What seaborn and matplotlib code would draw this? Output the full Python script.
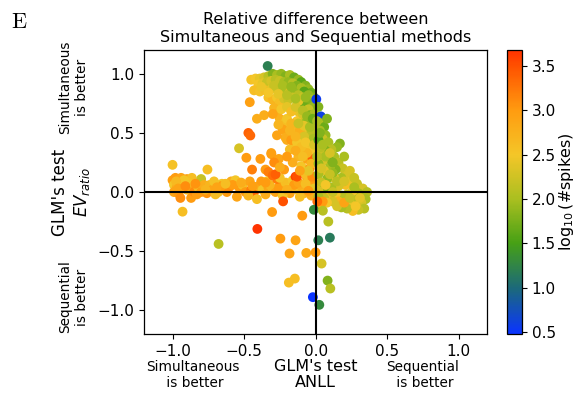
import numpy as np
import pandas as pd
import matplotlib
matplotlib.use("Agg")
import matplotlib.pyplot as plt
from matplotlib.colors import LinearSegmentedColormap, Normalize
from matplotlib.cm import ScalarMappable
import seaborn as sns

# ---- data: GLM test ANLL (x), EV ratio (y), log10 spike count (colour) ----
# horizontal band around EV_ratio ~ 0
band_x = [-1.00, -0.756, -1.00, -0.98, -0.94, -0.90, -0.865, -0.80, -0.99, -0.97, -0.95, -0.99,
          -0.96, -0.93, -0.945, -0.90, -0.87, -0.86, -0.85, -0.83, -0.82, -0.80, -0.78, -0.76,
          -0.74, -0.72, -0.70, -0.68, -0.655, -0.64, -0.62, -0.61, -0.59, -0.56, -0.55, -0.53,
          -0.51, -0.49, -0.46, -0.45, -0.43, -0.41, -0.40, -0.38, -0.37, -0.34, -0.33, -0.30,
          -0.28, -0.26, -0.24, -0.21, -0.19, -0.18, -0.16, -0.14, -0.13, -0.10, -0.08, -0.06,
          -0.04, -0.03, -0.02, -0.01, -0.11, -0.15, -0.23, -0.35, -0.47, -0.58, -0.66, -0.71,
          -0.89, -0.92, -0.84, -0.975, -0.96, -0.91, -0.77, -0.69, -0.63, -0.52, -0.44, -0.32,
          -0.27, -0.20, -0.12, -0.07, -0.05, -0.25]
band_y = [0.23, 0.19, 0.10, 0.12, 0.12, 0.11, 0.12, 0.11, 0.06, 0.04, 0.07, 0.00,
          -0.01, 0.03, -0.05, 0.02, -0.05, 0.05, 0.00, -0.02, 0.04, 0.00, 0.06, -0.01,
          0.06, 0.02, -0.02, 0.00, 0.07, 0.03, 0.00, 0.03, 0.09, 0.10, -0.04, 0.03,
          0.06, 0.00, 0.09, 0.02, 0.00, -0.06, 0.05, 0.09, 0.02, 0.09, 0.04, 0.02,
          0.00, 0.04, 0.07, 0.08, 0.03, -0.01, 0.10, 0.13, 0.02, 0.05, -0.01, 0.12,
          0.04, -0.03, 0.10, 0.03, -0.04, 0.06, -0.03, -0.02, -0.03, 0.06, 0.05, 0.09,
          0.08, 0.10, 0.07, 0.09, 0.03, 0.05, 0.02, 0.04, 0.07, 0.08, 0.05, 0.06,
          0.11, 0.02, 0.08, 0.07, 0.01, 0.12]
band_c = [2.55, 2.6, 2.95, 3.0, 2.9, 2.9, 2.6, 2.2, 2.5, 2.8, 2.6, 2.9,
          3.0, 3.0, 3.1, 2.7, 3.0, 2.9, 3.1, 3.0, 2.6, 3.0, 2.8, 3.05,
          2.7, 2.9, 2.6, 2.6, 2.5, 2.8, 3.0, 3.1, 2.8, 2.5, 2.9, 3.0,
          2.6, 3.0, 2.9, 3.2, 3.4, 2.6, 2.8, 3.0, 2.5, 2.5, 2.9, 2.6,
          2.9, 3.0, 3.0, 2.6, 2.5, 2.9, 2.5, 3.6, 2.6, 2.8, 2.7, 2.9,
          2.5, 2.8, 3.0, 2.4, 2.6, 3.0, 2.5, 2.8, 2.7, 3.0, 3.0, 2.55,
          2.55, 2.5, 3.05, 2.65, 2.9, 3.1, 2.7, 2.9, 2.6, 2.8, 2.95, 2.7,
          3.2, 2.75, 2.9, 2.6, 3.0, 2.55]

# scattered points between the band and the arc
mid_x = [-0.535, -0.484, -0.386, -0.444, -0.309, -0.257, -0.31, -0.29, -0.35, -0.33, -0.30, -0.28,
         -0.22, -0.25, -0.13, -0.35, -0.18, -0.19, -0.20, -0.15, -0.12, -0.10, -0.16, -0.20,
         -0.08, -0.06, -0.04, -0.07, -0.02, -0.03, -0.05, -0.11, -0.09, -0.14, -0.47, -0.456,
         -0.46, -0.41, -0.36, -0.023]
mid_y = [0.37, 0.29, 0.28, 0.19, 0.32, 0.28, 0.33, 0.25, 0.19, 0.17, 0.14, 0.15,
         0.19, 0.21, 0.13, 0.08, 0.36, 0.50, 0.44, 0.40, 0.30, 0.22, 0.25, 0.30,
         0.35, 0.28, 0.20, 0.15, 0.28, 0.45, 0.40, 0.45, 0.55, 0.55, 0.50, 0.478,
         0.76, 0.62, 0.65, 0.13]
mid_c = [2.3, 3.0, 3.0, 3.2, 3.0, 2.9, 2.95, 3.1, 3.0, 3.2, 3.3, 3.4,
         3.0, 2.8, 3.5, 3.0, 2.6, 2.9, 2.8, 2.6, 2.7, 2.5, 2.8, 3.0,
         2.6, 2.9, 3.1, 2.6, 3.4, 2.7, 2.5, 2.7, 2.6, 2.7, 3.4, 3.35,
         2.95, 2.8, 2.8, 3.1]

# arc of points reaching EV_ratio ~ 1 on the simultaneous side
arc_x = [-0.45, -0.42, -0.39, -0.36, -0.33, -0.30, -0.27, -0.24, -0.21, -0.18, -0.15, -0.12,
         -0.10, -0.07, -0.05, -0.03, -0.01, -0.335,
         -0.40, -0.37, -0.34, -0.31, -0.28, -0.25, -0.22, -0.19, -0.16, -0.13, -0.10, -0.08,
         -0.05, -0.03,
         -0.43, -0.39, -0.35, -0.31, -0.27, -0.24, -0.21, -0.18, -0.15, -0.12, -0.09, -0.06,
         -0.02,
         -0.33, -0.30, -0.27, -0.25, -0.22, -0.19, -0.11, -0.08, -0.05, -0.04, -0.01,
         -0.29, -0.27, -0.24, -0.25, -0.22, -0.23, -0.20, -0.12, -0.10, -0.07, -0.03, -0.01,
         -0.13, -0.17, -0.06, -0.15, -0.11, -0.03, -0.08, -0.21, -0.17, -0.13, -0.04, -0.02,
         -0.06, -0.10, -0.14, -0.09, -0.05, -0.02, -0.16, -0.12, -0.07, -0.015,
         -0.20, -0.17, -0.14, -0.09, -0.06, -0.18, -0.08, -0.12, -0.04, -0.02, -0.07, -0.01,
         -0.14, -0.09, -0.03, -0.05, -0.11, -0.38, -0.29, -0.23, -0.26, -0.20, -0.14, -0.17,
         -0.33, -0.30, -0.26, -0.27]
arc_y = [0.95, 0.96, 0.96, 0.97, 0.98, 1.00, 0.99, 1.00, 0.98, 0.99, 0.97, 0.95,
         0.93, 0.90, 0.87, 0.84, 0.80, 1.066,
         0.91, 0.92, 0.93, 0.94, 0.95, 0.94, 0.93, 0.93, 0.92, 0.90, 0.88, 0.85,
         0.82, 0.78,
         0.86, 0.85, 0.86, 0.87, 0.88, 0.86, 0.87, 0.85, 0.84, 0.82, 0.80, 0.76,
         0.72,
         0.80, 0.78, 0.80, 0.76, 0.79, 0.78, 0.75, 0.72, 0.70, 0.65, 0.66,
         0.71, 0.66, 0.70, 0.62, 0.58, 0.53, 0.62, 0.68, 0.63, 0.60, 0.58, 0.55,
         0.60, 0.58, 0.52, 0.50, 0.52, 0.50, 0.47, 0.46, 0.44, 0.42, 0.42, 0.36,
         0.33, 0.38, 0.47, 0.66, 0.62, 0.62, 0.80, 0.77, 0.80, 0.45,
         0.72, 0.68, 0.72, 0.69, 0.64, 0.52, 0.56, 0.58, 0.55, 0.62, 0.42, 0.40,
         0.35, 0.30, 0.24, 0.18, 0.18, 0.89, 0.90, 0.90, 0.83, 0.82, 0.79, 0.89,
         0.84, 0.66, 0.57, 0.48]
arc_c = [2.55, 2.5, 2.4, 2.3, 2.1, 1.8, 2.0, 1.9, 1.8, 2.0, 1.7, 1.9,
         1.6, 1.8, 1.9, 1.7, 1.8, 1.2,
         2.5, 2.4, 2.2, 2.3, 2.1, 2.2, 2.0, 1.9, 2.1, 1.8, 2.0, 1.6,
         1.9, 2.0,
         2.6, 2.55, 2.6, 2.4, 2.3, 2.2, 2.0, 2.3, 1.9, 2.1, 2.2, 1.8,
         1.9,
         2.6, 2.7, 2.5, 2.6, 2.3, 2.2, 2.1, 1.7, 2.2, 1.8, 2.0,
         2.7, 2.8, 2.5, 2.75, 2.6, 2.9, 2.5, 2.4, 2.6, 2.0, 1.8, 2.2,
         2.5, 2.7, 2.4, 2.6, 2.8, 2.1, 2.3, 2.8, 3.0, 2.5, 2.6, 2.5,
         2.7, 2.6, 2.7, 2.3, 1.9, 2.1, 2.2, 2.4, 1.9, 2.0,
         2.4, 2.6, 2.3, 2.1, 1.9, 2.7, 2.4, 2.2, 2.0, 1.7, 2.5, 2.3,
         2.8, 2.6, 2.7, 2.4, 2.9, 2.45, 2.2, 2.0, 2.4, 2.1, 2.0, 1.9,
         2.5, 2.9, 2.7, 2.9]

# lobe on the sequential side (ANLL > 0)
lobe_x = [0.005, 0.037, 0.02, 0.04, 0.06, 0.03, 0.07, 0.05, 0.02, 0.09, 0.17, 0.15,
          0.11, 0.07, 0.03, 0.13, 0.09, 0.05, 0.02, 0.16, 0.19, 0.14, 0.10, 0.06,
          0.02, 0.22, 0.18, 0.13, 0.08, 0.04, 0.25, 0.29, 0.21, 0.16, 0.11, 0.06,
          0.02, 0.33, 0.36, 0.30, 0.26, 0.22, 0.18, 0.14, 0.10, 0.06, 0.02, 0.35,
          0.32, 0.28, 0.24, 0.20, 0.16, 0.12, 0.08, 0.34, 0.30, 0.26, 0.22, 0.18,
          0.15, 0.04, 0.05, 0.012, 0.20, 0.08, 0.01, 0.04, 0.20, 0.24, 0.27, 0.12,
          0.07, 0.12, 0.04, 0.10, 0.15, 0.20, 0.27, 0.31, 0.12, 0.07, 0.03, 0.05,
          0.10, 0.01, 0.24, 0.28]
lobe_y = [0.785, 0.64, 0.72, 0.58, 0.55, 0.52, 0.48, 0.45, 0.44, 0.42, 0.41, 0.38,
          0.36, 0.35, 0.33, 0.30, 0.28, 0.26, 0.24, 0.25, 0.20, 0.19, 0.21, 0.18,
          0.15, 0.14, 0.12, 0.12, 0.11, 0.08, 0.09, 0.07, 0.06, 0.05, 0.04, 0.02,
          0.01, 0.03, 0.00, -0.01, 0.01, -0.02, -0.03, -0.02, -0.03, -0.05, -0.04, -0.06,
          -0.09, -0.07, -0.10, -0.09, -0.08, -0.08, -0.09, -0.14, -0.15, -0.16, -0.14, -0.13,
          -0.12, -0.12, -0.08, -0.08, -0.09, 0.62, 0.60, 0.38, 0.30, 0.18, 0.12, 0.16,
          0.30, 0.25, 0.20, 0.15, 0.09, 0.09, 0.04, -0.05, 0.00, 0.06, 0.50, 0.40,
          0.33, 0.30, -0.05, -0.12]
lobe_c = [0.55, 0.6, 1.8, 2.1, 1.7, 2.0, 1.9, 2.2, 1.6, 2.0, 1.8, 1.9,
          2.1, 1.8, 2.2, 2.0, 1.7, 2.3, 1.9, 2.1, 2.2, 1.8, 2.0, 2.4,
          2.0, 2.3, 2.0, 2.4, 1.9, 2.2, 2.4, 2.2, 2.6, 2.3, 2.0, 1.8,
          2.3, 2.3, 2.1, 2.0, 2.5, 2.2, 2.1, 2.5, 2.6, 2.2, 2.0, 2.0,
          2.3, 2.1, 2.4, 2.2, 2.7, 2.3, 2.5, 2.1, 2.2, 2.6, 2.1, 2.0,
          2.3, 2.7, 3.0, 3.3, 2.9, 1.8, 2.0, 2.1, 2.0, 2.3, 2.2, 1.9,
          2.0, 1.8, 2.3, 2.2, 2.1, 2.3, 2.0, 2.4, 2.2, 2.5, 1.8, 2.0,
          2.3, 2.1, 2.2, 2.5]

# sparse points below zero
low_x = [-0.93, -0.227, -0.304, -0.093, -0.407, -0.678, -0.246, -0.14, -0.182, -0.065, 0.0,
         -0.012, 0.051, 0.089, 0.019, 0.10, 0.042, -0.187, -0.145, 0.084, 0.103, -0.019, 0.026]
low_y = [-0.166, -0.079, -0.169, -0.20, -0.312, -0.439, -0.394, -0.408, -0.52, -0.515, -0.51,
         -0.15, -0.158, -0.25, -0.408, -0.386, -0.605, -0.766, -0.732, -0.749, -0.816, -0.889, -0.954]
low_c = [2.6, 3.5, 3.0, 3.0, 3.68, 2.1, 3.0, 2.9, 2.9, 2.85, 3.0,
         1.3, 2.1, 2.1, 1.2, 1.15, 2.3, 2.6, 2.6, 1.8, 2.1, 0.48, 1.3]

df = pd.DataFrame({
    "anll": band_x + mid_x + arc_x + lobe_x + low_x,
    "ev_ratio": band_y + mid_y + arc_y + lobe_y + low_y,
    "log_spikes": band_c + mid_c + arc_c + lobe_c + low_c,
})

# ---- colour map: blue -> teal -> green -> yellow -> orange -> red ----
vmin, vmax = df["log_spikes"].min(), df["log_spikes"].max()
anchors = [(0.48, "#0a34ff"), (1.0, "#1c6a78"), (1.5, "#46a015"), (2.0, "#aabf20"),
           (2.5, "#f4c628"), (3.0, "#ff9c10"), (3.5, "#ff5200"), (3.68, "#ff3300")]
cmap = LinearSegmentedColormap.from_list(
    "spikes", [((v - vmin) / (vmax - vmin), col) for v, col in anchors])
norm = Normalize(vmin=vmin, vmax=vmax)

sns.set_style("ticks", {"axes.edgecolor": "black", "xtick.color": "black",
                        "ytick.color": "black", "text.color": "black",
                        "axes.labelcolor": "black"})
plt.rcParams["font.family"] = ["DejaVu Sans"]
plt.rcParams["mathtext.fontset"] = "dejavusans"

fig = plt.figure(figsize=(5.78, 3.98), dpi=100)
ax = fig.add_axes([0.249, 0.161, 0.594, 0.713])
cax = fig.add_axes([507 / 578, 0.161, 15 / 578, 0.713])

sns.scatterplot(data=df, x="anll", y="ev_ratio", hue="log_spikes", palette=cmap,
                hue_norm=norm, s=50, linewidth=0, legend=False, ax=ax, zorder=2)

ax.axhline(0, color="black", lw=1.5, zorder=3)
ax.axvline(0, color="black", lw=1.5, zorder=3)
ax.set_xlim(-1.2, 1.2)
ax.set_ylim(-1.2, 1.2)
ax.set_xticks([-1.0, -0.5, 0.0, 0.5, 1.0])
ax.set_yticks([-1.0, -0.5, 0.0, 0.5, 1.0])
ax.tick_params(labelsize=11, width=0.8, length=3.5)
for sp in ax.spines.values():
    sp.set_linewidth(0.9)

ax.set_title("Relative difference between\nSimultaneous and Sequential methods",
             fontsize=11.5, pad=6)
ax.set_xlabel("GLM's test\nANLL", fontsize=11.5, labelpad=0, linespacing=1.1)
ax.set_ylabel("GLM's test\n$EV_{ratio}$", fontsize=12, labelpad=4)

ax.text(-0.205, 0.87, "Simultaneous\nis better", transform=ax.transAxes, rotation=90,
        ha="center", va="center", fontsize=9.8)
ax.text(-0.205, 0.13, "Sequential\nis better", transform=ax.transAxes, rotation=90,
        ha="center", va="center", fontsize=9.8)
ax.text(0.143, -0.145, "Simultaneous\n is better", transform=ax.transAxes,
        ha="center", va="center", fontsize=9.8)
ax.text(0.812, -0.145, "Sequential\n is better", transform=ax.transAxes,
        ha="center", va="center", fontsize=9.8)

fig.text(0.033, 0.945, r"$\mathrm{E}$", fontsize=16, ha="center", va="center",
         math_fontfamily="cm")

cb = fig.colorbar(ScalarMappable(norm=norm, cmap=cmap), cax=cax)
cb.set_ticks([0.5, 1.0, 1.5, 2.0, 2.5, 3.0, 3.5])
cb.ax.tick_params(labelsize=11, width=0.8, length=3.5)
cb.outline.set_linewidth(0.9)
cb.set_label(r"$\log_{10}$(#spikes)", fontsize=11.5, labelpad=1)

fig.savefig("out.png", dpi=100)
